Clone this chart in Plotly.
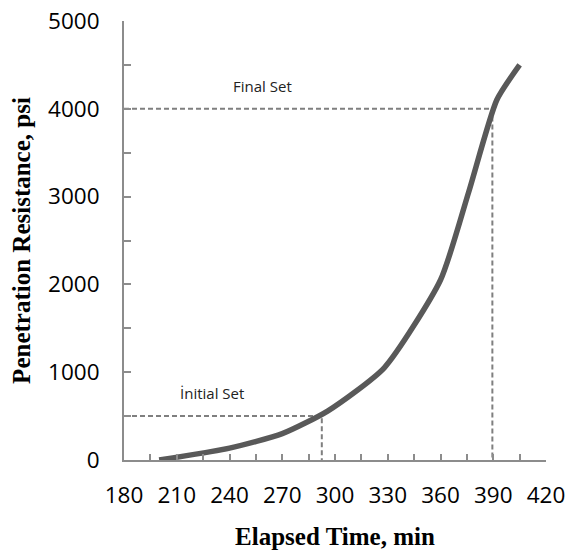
import plotly.graph_objects as go

# Penetration resistance vs elapsed time
elapsed_min = [200, 240, 270, 296, 328, 360, 376, 392, 405]
resistance_psi = [0, 135, 300, 560, 1050, 2050, 3050, 4100, 4500]

# Setting time markers (time, psi)
initial_set = (292.5, 500)
final_set = (389.5, 4000)

x_ticks = [180, 210, 240, 270, 300, 330, 360, 390, 420]
y_ticks = [0, 1000, 2000, 3000, 4000, 5000]

axis_gray = "#8c8c8c"
dash_gray = "#7f7f7f"

fig = go.Figure()

for t, p in (initial_set, final_set):
    fig.add_trace(go.Scatter(
        x=[x_ticks[0], t, t], y=[p, p, 0], mode="lines",
        line=dict(color=dash_gray, width=2, dash="5px,3px"),
        hoverinfo="skip", showlegend=False,
    ))

fig.add_trace(go.Scatter(
    x=elapsed_min, y=resistance_psi, mode="lines",
    line=dict(color="#595959", width=5.5, shape="spline", smoothing=0.6),
    showlegend=False,
))

fig.add_annotation(x=230, y=763, text="İnitial Set", showarrow=False,
                   font=dict(family="Open Sans", size=15, color="#222"))
fig.add_annotation(x=258.5, y=4263, text="Final Set", showarrow=False,
                   font=dict(family="Open Sans", size=15, color="#222"))

tick_font = dict(family="Open Sans", size=22.5, color="#000")
title_font = dict(family="Liberation Serif", size=25, color="#000")

fig.update_layout(
    width=568, height=550,
    margin=dict(l=124, r=22, t=21, b=90),
    paper_bgcolor="white", plot_bgcolor="white",
    xaxis=dict(
        range=[180, 420], tickvals=x_ticks, ticks="inside", ticklen=6,
        tickwidth=2, tickcolor=axis_gray, automargin=False,
        minor=dict(dtick=15, tick0=180, ticks="inside", ticklen=6,
                   tickwidth=2, tickcolor=axis_gray),
        showline=True, linecolor=axis_gray, linewidth=2,
        showgrid=False, zeroline=False, tickfont=tick_font,
        ticklabelstandoff=14,
        title=dict(text="<b>Elapsed Time, min</b>", font=title_font, standoff=18),
    ),
    yaxis=dict(
        range=[0, 5000], tickvals=y_ticks, ticks="inside", ticklen=7,
        tickwidth=2, tickcolor=axis_gray, automargin=False,
        minor=dict(dtick=500, tick0=0, ticks="inside", ticklen=7,
                   tickwidth=2, tickcolor=axis_gray),
        showline=True, linecolor=axis_gray, linewidth=2,
        showgrid=False, zeroline=False, tickfont=tick_font,
        ticklabelstandoff=18,
        title=dict(text="<b>Penetration Resistance, psi</b>", font=title_font, standoff=10),
    ),
)

fig.write_html("out.html")
